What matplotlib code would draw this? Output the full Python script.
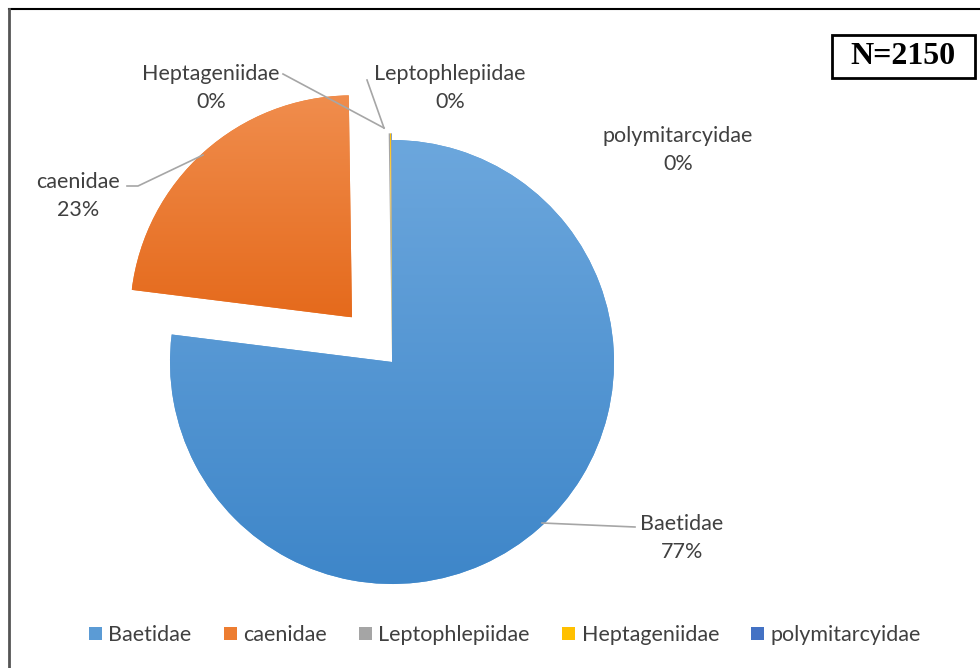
import matplotlib
matplotlib.use("Agg")
import matplotlib.pyplot as plt
import numpy as np
from matplotlib.colors import LinearSegmentedColormap
from matplotlib.lines import Line2D
from matplotlib.patches import Rectangle

# data (counts, N = 2150)
families = ["Baetidae", "caenidae", "Leptophlepiidae", "Heptageniidae", "polymitarcyidae"]
counts = [1655, 490, 2, 2, 1]
pct_labels = ["77%", "23%", "0%", "0%", "0%"]
colors = ["#5B9BD5", "#ED7D31", "#A5A5A5", "#FFC000", "#4472C4"]
grad_top = ["#6CA7DD", "#F08D4D"]
grad_bottom = ["#3E86C9", "#E56A1C"]

plt.rcParams['font.family'] = ['Lato', 'DejaVu Sans']
TXT = "#404040"
FS = 15.5

W, H = 980, 668
CX, CY, R = 392, 362, 222

fig = plt.figure(figsize=(W / 100, H / 100), dpi=100)
ax = fig.add_axes([0, 0, 1, 1])
ax.set_axis_off()


def px(x, y):
    # pixel position -> data coords
    return (x - CX) / R, (CY - y) / R


wedges, _ = ax.pie(counts, colors=colors, startangle=90, counterclock=False,
                   explode=[0, 0.27, 0.03, 0.03, 0.03], radius=1,
                   wedgeprops=dict(linewidth=0))

# vertical gradient fill for the two big wedges
for i in range(2):
    w = wedges[i]
    ext = w.get_path().get_extents()
    cm = LinearSegmentedColormap.from_list("g", [grad_bottom[i], grad_top[i]])
    grad = np.linspace(0, 1, 256).reshape(-1, 1)
    im = ax.imshow(grad, cmap=cm, origin='lower', aspect='auto',
                   extent=[ext.x0, ext.x1, ext.y0, ext.y1], zorder=w.get_zorder() + 0.1)
    im.set_clip_path(w)

ax.set_aspect('auto')
ax.set_xlim(-CX / R, (W - CX) / R)
ax.set_ylim(-(H - CY) / R, CY / R)

# leader lines
lc = "#A6A6A6"
leaders = [
    [(542, 523), (635, 527)],
    [(127, 186), (138, 186), (203, 155)],
    [(283, 74), (384, 128)],
    [(367, 80), (384, 128)],
]
for pts in leaders:
    xs, ys = zip(*[px(*p) for p in pts])
    ax.plot(xs, ys, color=lc, lw=1.2, zorder=5)

# data labels
label_pos = {
    "Baetidae": (682, 538),
    "caenidae": (78, 196),
    "Heptageniidae": (211, 88),
    "Leptophlepiidae": (450, 88),
    "polymitarcyidae": (678, 150),
}
for name, pct in zip(families, pct_labels):
    x, y = px(*label_pos[name])
    ax.text(x, y, name + "\n" + pct, ha='center', va='center', fontsize=FS,
            color=TXT, linespacing=1.55, zorder=6)

# N box
ax.text(*px(903, 57), "N=2150", ha='center', va='center', fontsize=23,
        fontweight='bold', family='Liberation Serif', color='black', zorder=6)
fig.add_artist(Rectangle((832 / W, 1 - 78 / H), (975 - 832) / W, (78 - 35) / H,
                         transform=fig.transFigure, fill=False, ec='black', lw=2))

# chart border (top and left visible)
fig.add_artist(Line2D([9 / W, 1], [1 - 9 / H, 1 - 9 / H], transform=fig.transFigure,
                      color='black', lw=1.5))
fig.add_artist(Line2D([9 / W, 9 / W], [0, 1 - 9 / H], transform=fig.transFigure,
                      color='#555555', lw=2))

# legend
handles = [Rectangle((0, 0), 1, 1, fc=c, ec='none') for c in colors]
leg = fig.legend(handles, families, loc='center', bbox_to_anchor=(505 / W, 1 - 635 / H),
                 ncol=5, frameon=False, fontsize=FS, handlelength=0.6,
                 handleheight=0.6, handletextpad=0.3, columnspacing=1.5)
for t in leg.get_texts():
    t.set_color(TXT)

fig.savefig("out.png", dpi=100)
